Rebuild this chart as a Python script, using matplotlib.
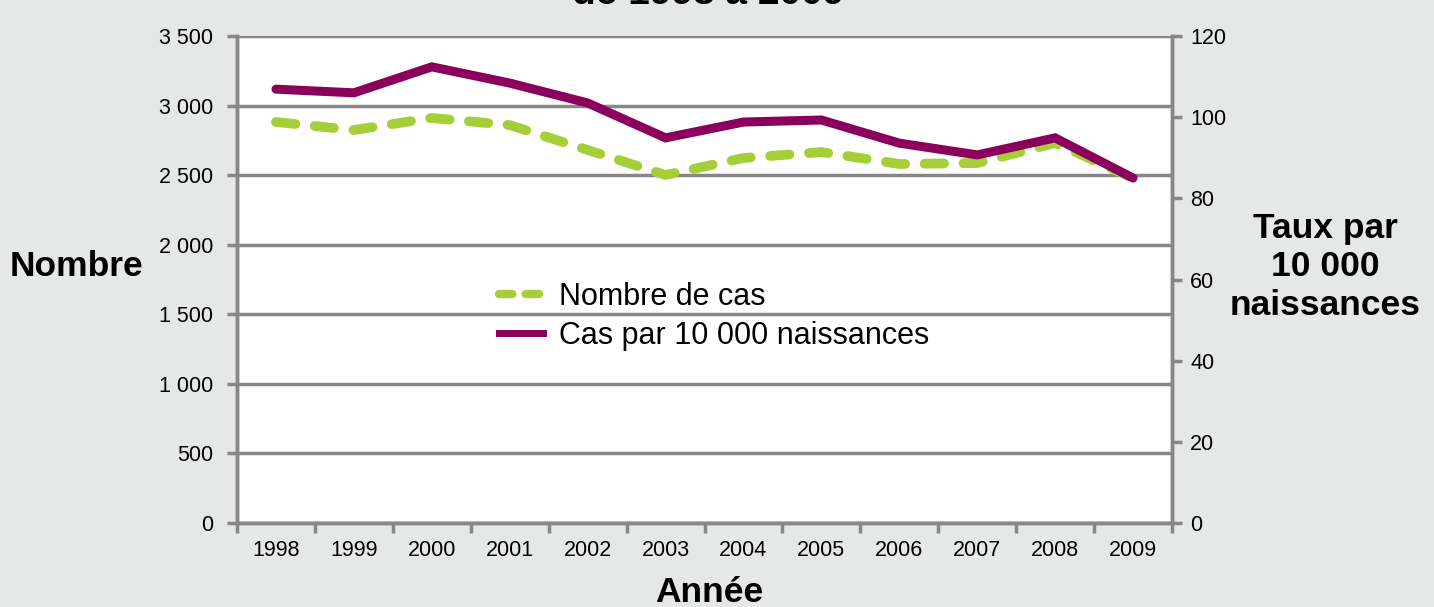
import matplotlib
matplotlib.use("Agg")
import matplotlib.pyplot as plt
from matplotlib.lines import Line2D

years = ["1998", "1999", "2000", "2001", "2002", "2003", "2004", "2005", "2006", "2007", "2008", "2009"]
nombre_cas = [2882, 2824, 2911, 2860, 2681, 2501, 2623, 2666, 2580, 2587, 2731, 2479]
taux = [106.9, 106.0, 112.4, 108.4, 103.5, 94.9, 98.8, 99.3, 93.6, 90.7, 94.9, 85.0]
left_ticks = [0, 500, 1000, 1500, 2000, 2500, 3000, 3500]
left_labels = ["0", "500", "1 000", "1 500", "2 000", "2 500", "3 000", "3 500"]
right_ticks = [0, 20, 40, 60, 80, 100, 120]

plt.rcParams['font.family'] = ['Liberation Sans', 'DejaVu Sans']

BG = "#e6e7e7"
GRAY = "#878787"
GREEN = "#a6ce39"
PURPLE = "#8a005c"

fig = plt.figure(figsize=(14.34, 6.07), dpi=100, facecolor=BG)
ax = fig.add_axes([237/1434, 1-523/607, (1172-237)/1434, (523-36)/607])
ax.set_facecolor("white")
ax2 = ax.twinx()

x = list(range(len(years)))
l1, = ax.plot(x, nombre_cas, color=GREEN, lw=7.0, linestyle=(0, (2.0, 2.0)),
              dash_capstyle='round', solid_capstyle='round', zorder=3)
l2, = ax2.plot(x, taux, color=PURPLE, lw=6.5, solid_capstyle='round', solid_joinstyle='miter', zorder=4)

ax.set_xlim(-0.5, len(years) - 0.5)
ax.set_ylim(0, 3500)
ax2.set_ylim(0, 120)

ax.set_yticks(left_ticks)
ax.set_yticklabels(left_labels, fontsize=15.5)
ax2.set_yticks(right_ticks)
ax2.set_yticklabels([str(t) for t in right_ticks], fontsize=15.5)

ax.set_xticks(x)
ax.set_xticklabels(years, fontsize=15.5)
ax.set_xticks([i - 0.5 for i in range(len(years) + 1)], minor=True)
ax.tick_params(axis='x', which='major', length=0, pad=12)
ax.tick_params(axis='x', which='minor', length=7, width=2.5, color=GRAY, direction='out')
ax.tick_params(axis='y', length=7, width=2.5, color=GRAY, direction='out', pad=10)
ax2.tick_params(axis='y', length=7, width=2.5, color=GRAY, direction='out', pad=6)

ax.yaxis.grid(True, color=GRAY, lw=2.5)
ax.set_axisbelow(True)

for a in (ax, ax2):
    a.spines["top"].set_visible(False)
    for s in ("left", "right", "bottom"):
        a.spines[s].set_color(GRAY)
        a.spines[s].set_linewidth(2.5)

fig.text(709/1434, 1-592/607, "Année", fontsize=25.5, fontweight='bold', ha='center', va='center')
fig.text(77/1434, 1-266/607, "Nombre", fontsize=25.5, fontweight='bold', ha='center', va='center')
fig.text(1325/1434, 1-267/607, "Taux par\n10 000\nnaissances", fontsize=25.5, fontweight='bold',
         ha='center', va='center', linespacing=1.2)
fig.text(708/1434, 1-4/607, "de 1998 à 2009", fontsize=28, fontweight='bold', ha='center', va='baseline')

h1 = Line2D([], [], color=GREEN, lw=6.0, linestyle=(0, (1.6, 1.6)), dash_capstyle='round')
h2 = Line2D([], [], color=PURPLE, lw=5.0)
leg = ax2.legend([h1, h2], ["Nombre de cas", "Cas par 10 000 naissances"], loc='upper left',
                 bbox_to_anchor=((499-237)/935, (523-282)/487), frameon=False, fontsize=22,
                 handlelength=1.45, handletextpad=0.5, labelspacing=0.3, borderpad=0,
                 borderaxespad=0)
leg.set_zorder(10)

fig.savefig("out.png", dpi=100, facecolor=BG)
